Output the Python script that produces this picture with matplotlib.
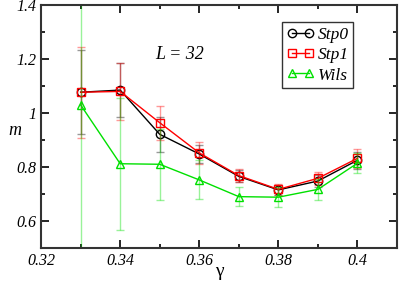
import matplotlib
matplotlib.use("Agg")
import matplotlib.pyplot as plt
import numpy as np
from matplotlib.ticker import MultipleLocator, FixedFormatter, FixedLocator

# %% Data
gamma = [0.33, 0.34, 0.35, 0.36, 0.37, 0.38, 0.39, 0.40]

stp0 = [1.077, 1.085, 0.921, 0.848, 0.765, 0.715, 0.748, 0.825]
stp0_err = [0.155, 0.10, 0.065, 0.035, 0.022, 0.018, 0.022, 0.032]

stp1 = [1.077, 1.080, 0.964, 0.852, 0.768, 0.717, 0.758, 0.832]
stp1_err = [0.168, 0.107, 0.063, 0.040, 0.025, 0.020, 0.025, 0.035]

wils = [1.030, 0.812, 0.810, 0.752, 0.690, 0.688, 0.717, 0.814]
wils_err = [1.0, 0.245, 0.132, 0.072, 0.035, 0.037, 0.040, 0.037]

xticks = [0.32, 0.34, 0.36, 0.38, 0.40]
xtick_labels = ["0.32", "0.34", "0.36", "0.38", "0.4"]
yticks = [0.6, 0.8, 1.0, 1.2, 1.4]
ytick_labels = ["0.6", "0.8", "1", "1.2", "1.4"]

# %% Plot
plt.rcParams["font.family"] = ["Liberation Serif", "DejaVu Serif"]

fig = plt.figure(figsize=(3.99, 2.83), dpi=100)
ax = fig.add_axes([0.103, 0.124, 0.892, 0.858])

series = [
    (stp0, stp0_err, "black", "o", "Stp0"),
    (stp1, stp1_err, "red", "s", "Stp1"),
    (wils, wils_err, "#00e000", "^", "Wils"),
]
for vals, errs, color, marker, label in series:
    ax.errorbar(gamma, vals, yerr=errs, fmt="none", ecolor=color,
                alpha=0.4, elinewidth=1.0, capsize=3, capthick=1.0)
    ax.plot(gamma, vals, color=color, marker=marker, markersize=6,
            markerfacecolor="none", markeredgecolor=color,
            markeredgewidth=1.0, linewidth=1.0, label=label)

ax.set_xlim(0.32, 0.41)
ax.set_ylim(0.5, 1.4)
ax.xaxis.set_major_locator(FixedLocator(xticks))
ax.xaxis.set_major_formatter(FixedFormatter(xtick_labels))
ax.xaxis.set_minor_locator(MultipleLocator(0.01))
ax.yaxis.set_major_locator(FixedLocator(yticks))
ax.yaxis.set_major_formatter(FixedFormatter(ytick_labels))
ax.yaxis.set_minor_locator(MultipleLocator(0.1))
ax.tick_params(which="both", direction="in", top=True, right=True,
               width=1.2, labelsize=11.5)
ax.tick_params(which="major", length=6)
ax.tick_params(which="minor", length=3)
for lbl in ax.get_xticklabels() + ax.get_yticklabels():
    lbl.set_style("italic")
for sp in ax.spines.values():
    sp.set_linewidth(1.5)
    sp.set_color("#333333")

ax.set_ylabel("m", fontsize=13, style="italic", rotation=0, labelpad=10)
ax.yaxis.set_label_coords(-0.075, 0.45)
ax.set_xlabel("γ", fontsize=14)
ax.xaxis.set_label_coords(0.5, -0.062, transform=ax.transAxes)
ax.text(0.3488, 1.2, "L = 32", fontsize=13, style="italic")

leg = ax.legend(loc="upper right", bbox_to_anchor=(0.877, 0.93),
                prop={"style": "italic", "size": 12.5},
                frameon=True, fancybox=False, edgecolor="black",
                numpoints=2, handlelength=1.6, handletextpad=0.2,
                borderpad=0.25, labelspacing=0.25, borderaxespad=0)
leg.get_frame().set_linewidth(1.0)

fig.savefig("out.png", dpi=100)
